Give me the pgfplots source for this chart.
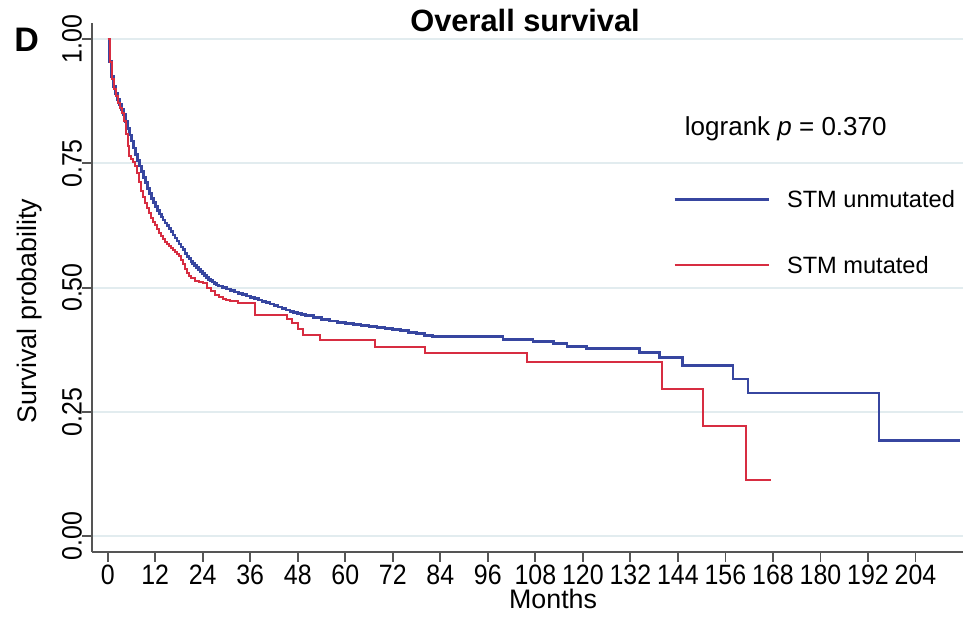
\documentclass[border=0pt]{standalone}
\usepackage{fontspec}
\setmainfont{Liberation Sans}
\newfontfamily\narrowfont{Liberation Sans}[FakeStretch=0.89]
\usepackage{pgfplots}
\pgfplotsset{compat=1.18}

\definecolor{kmblue}{RGB}{55,70,160}
\definecolor{kmred}{RGB}{215,45,65}
\definecolor{gridc}{RGB}{226,236,239}
\definecolor{axc}{RGB}{85,85,85}

\begin{document}
\begin{tikzpicture}
\begin{axis}[
    name=ax, at={(0,0)}, anchor=south west,
    scale only axis, width=435.35pt, height=264.2pt,
    xmin=-3.89, xmax=216, ymin=-0.0316, ymax=1.032,
    axis lines=left,
    axis line style={-, axc, line width=1pt},
    tick style={axc, line width=0.9pt},
    tick align=outside,
    major tick length=5pt,
    xtick={0,12,...,204},
    ytick={0,0.25,0.5,0.75,1},
    yticklabels={0.00,0.25,0.50,0.75,1.00},
    /pgf/number format/assume math mode=true,
    tick label style={font=\narrowfont\fontsize{14}{16}\selectfont},
    xticklabel style={anchor=north, inner sep=0pt, yshift=-1.5pt},
    yticklabel style={rotate=90, anchor=south, inner sep=0pt},
    ymajorgrids,
    major grid style={gridc, line width=1pt},
    legend style={at={(axis cs:142.75,0.699)}, anchor=north west, draw=none, fill=none,
        font=\fontsize{11.8}{13}\selectfont, row sep=24pt, column sep=8.5pt, inner sep=0pt,
        nodes={inner sep=0pt, text height=9pt, text depth=0pt, anchor=base west}},
    legend cell align=left,
    legend image code/.code={\draw[#1] (0pt,3.85pt) -- (47pt,3.85pt);},
]
% STM unmutated
\addplot[const plot, kmblue, line width=1.35pt] coordinates {
(0,1.000) (0.5,0.955) (1,0.925) (1.5,0.905) (2,0.890) (2.5,0.878) (3,0.868)
(3.5,0.858) (4,0.848) (4.5,0.835) (5,0.820) (5.5,0.807) (6,0.795) (6.5,0.781)
(7,0.768) (7.5,0.756) (8,0.745) (8.5,0.733) (9,0.722) (9.5,0.711) (10,0.700)
(10.5,0.690) (11,0.680) (11.5,0.671) (12,0.663) (12.5,0.655) (13,0.648)
(13.5,0.642) (14,0.636) (14.5,0.630) (15,0.625) (15.5,0.619) (16,0.613)
(16.5,0.606) (17,0.600) (17.5,0.594) (18,0.588) (18.5,0.582) (19,0.576)
(19.5,0.569) (20,0.563) (20.5,0.558) (21,0.553) (21.5,0.548) (22,0.544)
(22.5,0.540) (23,0.536) (23.5,0.532) (24,0.528) (24.5,0.524) (25,0.521)
(25.5,0.517) (26,0.514) (26.5,0.511) (27,0.508) (27.5,0.505) (28,0.503)
(29,0.500) (30,0.497) (31,0.494) (32,0.491) (33,0.488) (34,0.486) (35,0.483)
(36,0.480) (37,0.478) (38,0.475) (39,0.472) (40,0.470) (41,0.467) (42,0.464)
(43,0.461) (44,0.458) (45,0.455) (46,0.452) (47,0.450) (48,0.448) (49,0.446)
(50,0.444) (52,0.440) (54,0.436) (56,0.433) (58,0.430) (60,0.428) (62,0.426)
(64,0.424) (66,0.421) (68,0.419) (70,0.417) (72,0.415) (74,0.413) (76,0.410)
(78,0.407) (80,0.404) (82,0.402) (86,0.401) (99.8,0.395) (107.4,0.392)
(112.5,0.387) (116,0.382) (120.9,0.378) (134.3,0.369) (139.4,0.360)
(145.2,0.343) (157.9,0.316) (161.7,0.288) (194.8,0.192) (215.2,0.192)
};
\addlegendentry{STM unmutated}
% STM mutated
\addplot[const plot, kmred, line width=1pt] coordinates {
(0,1.000) (0.5,0.955) (1,0.920) (1.5,0.900) (2,0.885) (2.5,0.872) (3,0.862)
(3.5,0.852) (4,0.835) (4.5,0.810) (5,0.785) (5.5,0.765) (6,0.758) (6.5,0.752)
(7,0.745) (7.5,0.730) (8,0.712) (8.5,0.695) (9,0.682) (9.5,0.670) (10,0.660)
(10.5,0.650) (11,0.641) (11.5,0.633) (12,0.625) (12.5,0.617) (13,0.610)
(13.5,0.603) (14,0.597) (14.5,0.592) (15,0.588) (15.5,0.583) (16,0.579)
(16.5,0.575) (17,0.571) (17.5,0.567) (18,0.563) (18.5,0.555) (19,0.547)
(19.5,0.538) (20,0.530) (20.5,0.524) (21,0.519) (22,0.514) (23,0.511)
(24,0.509) (25,0.500) (26,0.493) (27,0.485) (28,0.481) (29,0.478) (30,0.476)
(31,0.473) (33,0.470) (37.2,0.445) (45.2,0.437) (46.5,0.428) (48,0.417)
(49.3,0.405) (53.6,0.395) (67.5,0.381) (80.1,0.369) (105.8,0.351)
(139.9,0.296) (150.3,0.222) (161.3,0.112) (167.6,0.112)
};
\addlegendentry{STM mutated}
\node[anchor=base west, font=\fontsize{13}{15}\selectfont] at (axis cs:144.0,0.807) {logrank \textit{p} = 0.370};
\end{axis}
\node[anchor=base, font=\bfseries\fontsize{15.4}{17}\selectfont] at ([xshift=216.4pt, yshift=-4.35pt]ax.north west) {Overall survival};
\node[anchor=base west, inner sep=0pt, font=\bfseries\fontsize{17}{19}\selectfont] at ([xshift=-39.15pt, yshift=-14.2pt]ax.north west) {D};
\node[anchor=base, rotate=90, inner sep=0pt, font=\fontsize{13.4}{15}\selectfont] at ([xshift=-27.65pt, yshift=120.35pt]ax.south west) {Survival probability};
\node[anchor=base, inner sep=0pt, font=\fontsize{13.4}{15}\selectfont] at ([xshift=230.4pt, yshift=-28.6pt]ax.south west) {Months};
\pgfresetboundingbox
\path ([shift={(-46.15pt,-32.65pt)}]ax.south west) rectangle ([shift={(0pt,11.65pt)}]ax.north east);
\end{tikzpicture}
\end{document}
